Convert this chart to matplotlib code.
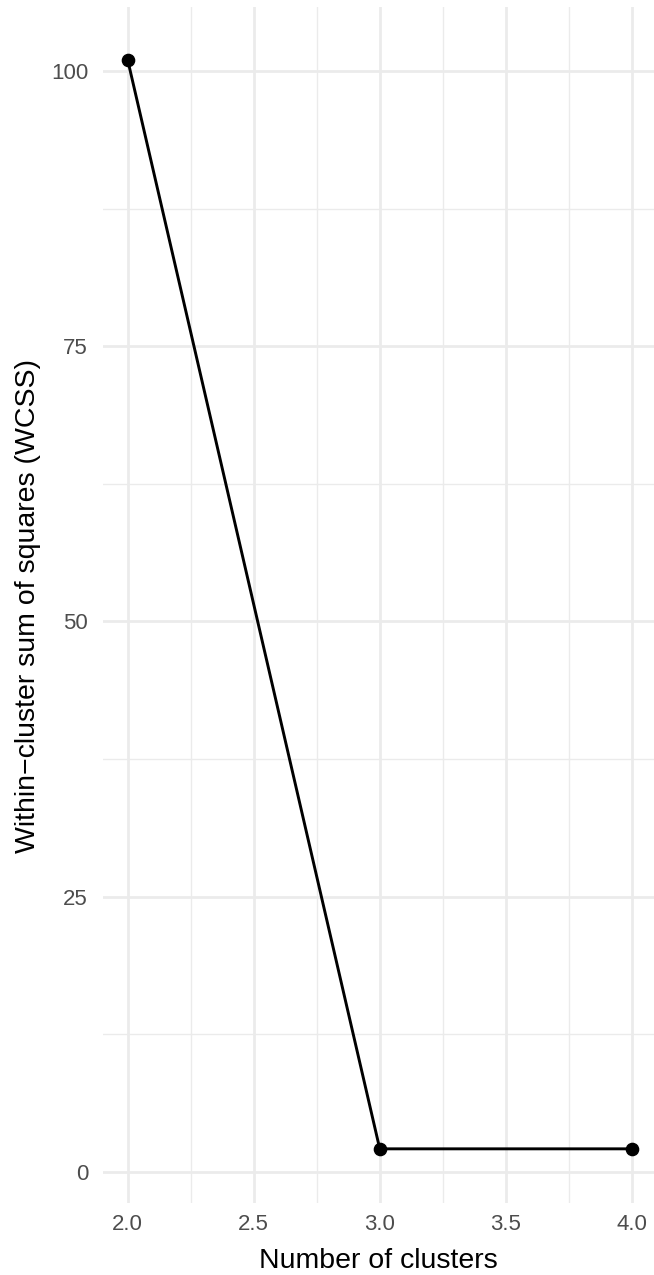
import matplotlib
matplotlib.use("Agg")
import matplotlib.pyplot as plt
from matplotlib.ticker import FixedLocator

plt.rcParams['font.family'] = ['Liberation Sans', 'DejaVu Sans']

clusters = [2, 3, 4]
wcss = [101.0, 2.1, 2.1]
x_ticks = [2.0, 2.5, 3.0, 3.5, 4.0]
x_tick_labels = ["2.0", "2.5", "3.0", "3.5", "4.0"]
y_ticks = [0, 25, 50, 75, 100]
y_tick_labels = ["0", "25", "50", "75", "100"]

W, H = 654, 1275
fig = plt.figure(figsize=(W / 100, H / 100), dpi=100)
left, right, top, bottom = 102.5, 654, 6.7, 1203
aw, ah = right - left, bottom - top
ax = fig.add_axes([left / W, 1 - bottom / H, aw / W, ah / H])

ax.plot(clusters, wcss, color='black', lw=2.1, zorder=3,
        marker='o', markersize=8.8, markerfacecolor='black', markeredgecolor='black')

ax.set_xlim(1.9, 4.088)
ax.set_ylim(-2.82, 105.84)
ax.xaxis.set_major_locator(FixedLocator(x_ticks))
ax.set_xticklabels(x_tick_labels)
ax.yaxis.set_major_locator(FixedLocator(y_ticks))
ax.set_yticklabels(y_tick_labels)
ax.xaxis.set_minor_locator(FixedLocator([2.25, 2.75, 3.25, 3.75]))
ax.yaxis.set_minor_locator(FixedLocator([12.5, 37.5, 62.5, 87.5]))

ax.grid(which='major', color='#EBEBEB', lw=1.95, zorder=0)
ax.grid(which='minor', color='#EBEBEB', lw=1.0, zorder=0)
ax.set_axisbelow(True)
for s in ax.spines.values():
    s.set_visible(False)
ax.tick_params(which='both', length=0)
ax.tick_params(axis='both', which='major', labelsize=16, labelcolor='#4D4D4D')
ax.tick_params(axis='x', which='major', pad=8)
ax.tick_params(axis='y', which='major', pad=10.4)

ax.set_xlabel("Number of clusters", fontsize=20.5, color='black', va='baseline')
ax.xaxis.set_label_coords(0.5, (bottom - 1268) / ah)
ax.set_ylabel("Within\u2212cluster sum of squares (WCSS)", fontsize=20.5, color='black', va='baseline')
ax.yaxis.set_label_coords((35 - left) / aw, (bottom - 606) / ah)

fig.savefig("out.png", dpi=100)
